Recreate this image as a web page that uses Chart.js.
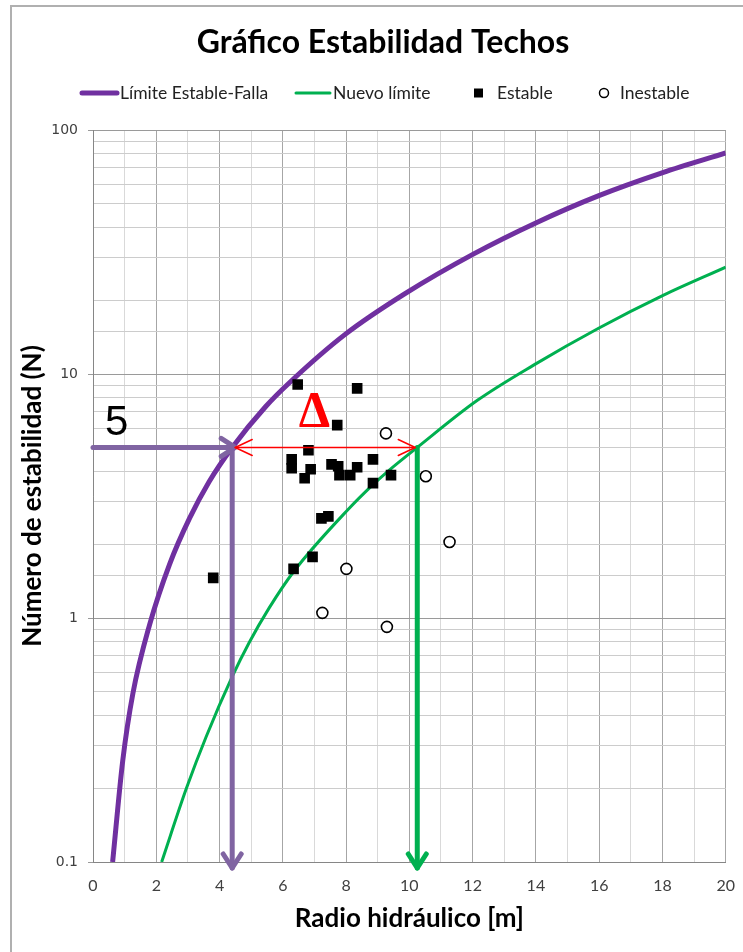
<!DOCTYPE html>
<html>
<head>
<meta charset="utf-8">
<script src="https://cdn.jsdelivr.net/npm/chart.js@4.4.0/dist/chart.umd.min.js"></script>
<style>
  html, body { margin: 0; padding: 0; background: #fff; }
  canvas { display: block; }
</style>
</head>
<body>
<canvas id="myChart" width="743" height="952"></canvas>
<script>
// Límite Estable-Falla (purple curve)
const limitX = [0.62, 0.94, 1.26, 1.79, 2.42, 3.05, 3.67, 4.4, 5.46, 6.2, 7.96, 9.85, 12.02, 14.03, 15.97, 18.01, 20];
const limitN = [0.1, 0.26, 0.49, 0.94, 1.66, 2.56, 3.62, 5.0, 7.36, 9.19, 14.5, 21.3, 31.0, 41.8, 53.7, 66.9, 80.5];

// Nuevo límite (green curve)
const newX = [2.17, 2.95, 3.58, 4.4, 4.93, 5.56, 6.34, 8.07, 8.85, 9.32, 10.25, 12.15, 13.94, 15.98, 18.02, 20];
const newN = [0.1, 0.2, 0.327, 0.575, 0.79, 1.095, 1.547, 2.79, 3.52, 3.99, 5.0, 7.8, 10.9, 15.4, 21.0, 27.4];

// Estable cases
const stableX = [6.47, 8.35, 7.72, 6.81, 6.28, 6.28, 6.88, 6.69, 7.54, 7.75, 7.79, 8.13, 8.35, 8.85, 8.85, 9.42, 7.22, 7.44, 6.94, 6.34, 3.80];
const stableN = [9.06, 8.73, 6.17, 4.87, 4.47, 4.11, 4.07, 3.74, 4.26, 4.19, 3.85, 3.85, 4.15, 4.47, 3.57, 3.85, 2.56, 2.61, 1.78, 1.59, 1.46];

// Inestable cases
const unstableX = [9.26, 10.52, 11.27, 8.01, 7.25, 9.29];
const unstableN = [5.71, 3.81, 2.05, 1.59, 1.05, 0.92];

// annotation: N = 5 read across to both limits
const readN = 5;
const limitAtN = 4.4;
const newAtN = 10.25;
const deltaPos = [7.0, 6.9];
const fiveLabelPos = [0.75, 6.3];

const xTicks = [0, 2, 4, 6, 8, 10, 12, 14, 16, 18, 20];

const toPoints = (xs, ys) => xs.map((x, i) => ({ x: x, y: ys[i] }));
const isDecade = v => Math.abs(Math.log10(v) - Math.round(Math.log10(v))) < 1e-6;

const purple = '#7030A0';
const green = '#00B050';
const arrowPurple = '#8064A2';
const uiFont = 'Lato, "Open Sans", sans-serif';

function chevron(ctx, tipX, tipY, dirX, dirY, len, spread) {
  // open arrowhead, dir is unit vector pointing to the tip
  const px = -dirY, py = dirX;
  ctx.beginPath();
  ctx.moveTo(tipX - dirX * len + px * spread, tipY - dirY * len + py * spread);
  ctx.lineTo(tipX, tipY);
  ctx.lineTo(tipX - dirX * len - px * spread, tipY - dirY * len - py * spread);
  ctx.stroke();
}

const decorations = {
  id: 'decorations',
  beforeDraw(chart) {
    const ctx = chart.ctx;
    ctx.save();
    ctx.fillStyle = '#fff';
    ctx.fillRect(0, 0, chart.width, chart.height);
    // outer frame
    ctx.strokeStyle = '#b0b0b0';
    ctx.lineWidth = 2;
    ctx.beginPath();
    ctx.moveTo(11, chart.height);
    ctx.lineTo(11, 6);
    ctx.lineTo(chart.width, 6);
    ctx.stroke();

    // title
    ctx.fillStyle = '#000';
    ctx.textAlign = 'center';
    ctx.textBaseline = 'middle';
    ctx.font = 'bold 32px ' + uiFont;
    ctx.fillText('Gráfico Estabilidad Techos', 383, 43);

    // legend
    const ly = 93;
    ctx.font = '17.5px ' + uiFont;
    ctx.textAlign = 'left';
    ctx.fillStyle = '#222';
    ctx.lineCap = 'round';
    ctx.strokeStyle = purple; ctx.lineWidth = 5;
    ctx.beginPath(); ctx.moveTo(82, ly); ctx.lineTo(117, ly); ctx.stroke();
    ctx.fillText('Límite Estable-Falla', 120, ly);
    ctx.strokeStyle = green; ctx.lineWidth = 3;
    ctx.beginPath(); ctx.moveTo(296, ly); ctx.lineTo(330, ly); ctx.stroke();
    ctx.fillText('Nuevo límite', 333, ly);
    ctx.fillStyle = '#000';
    ctx.fillRect(474, ly - 4.5, 9, 9);
    ctx.fillStyle = '#222';
    ctx.fillText('Estable', 497, ly);
    ctx.strokeStyle = '#000'; ctx.lineWidth = 1.5;
    ctx.beginPath(); ctx.arc(604, ly, 4.5, 0, Math.PI * 2); ctx.stroke();
    ctx.fillText('Inestable', 620, ly);
    ctx.restore();
  },
  afterDatasetsDraw(chart) {
    const ctx = chart.ctx;
    const xs = chart.scales.x, ys = chart.scales.y;
    const yN = ys.getPixelForValue(readN);
    const yBottom = ys.getPixelForValue(ys.min) + 6;
    const xLeft = xs.getPixelForValue(xs.min);
    const xL = xs.getPixelForValue(limitAtN);
    const xG = xs.getPixelForValue(newAtN);
    ctx.save();
    ctx.lineCap = 'round';
    ctx.lineJoin = 'round';

    // purple horizontal and vertical arrows
    ctx.strokeStyle = arrowPurple;
    ctx.lineWidth = 5;
    ctx.beginPath(); ctx.moveTo(xLeft, yN); ctx.lineTo(xL + 2, yN); ctx.stroke();
    chevron(ctx, xL + 3, yN, 1, 0, 14, 9);
    ctx.beginPath(); ctx.moveTo(xL, yN); ctx.lineTo(xL, yBottom); ctx.stroke();
    chevron(ctx, xL, yBottom, 0, 1, 14, 9);

    // green vertical arrow
    ctx.strokeStyle = green;
    ctx.beginPath(); ctx.moveTo(xG, yN); ctx.lineTo(xG, yBottom); ctx.stroke();
    chevron(ctx, xG, yBottom, 0, 1, 14, 9);

    // red double arrow
    ctx.strokeStyle = '#FF0000';
    ctx.lineWidth = 1.5;
    ctx.beginPath(); ctx.moveTo(xL + 3, yN); ctx.lineTo(xG - 2, yN); ctx.stroke();
    chevron(ctx, xL + 3, yN, -1, 0, 17, 8);
    chevron(ctx, xG - 2, yN, 1, 0, 17, 8);

    // labels
    ctx.textAlign = 'center';
    ctx.textBaseline = 'middle';
    ctx.fillStyle = '#FF0000';
    ctx.font = 'bold 50px "Liberation Serif", serif';
    ctx.fillText('Δ', xs.getPixelForValue(deltaPos[0]), ys.getPixelForValue(deltaPos[1]));
    ctx.fillStyle = '#000';
    ctx.font = '42px "Liberation Sans", sans-serif';
    ctx.fillText(String(readN), xs.getPixelForValue(fiveLabelPos[0]), ys.getPixelForValue(fiveLabelPos[1]));
    ctx.restore();
  }
};

new Chart(document.getElementById('myChart'), {
  type: 'scatter',
  data: {
    datasets: [{
      label: 'Estable',
      data: toPoints(stableX, stableN),
      pointStyle: 'rect',
      pointRadius: 7.5,
      backgroundColor: '#000',
      borderColor: '#000',
      borderWidth: 0
    }, {
      label: 'Inestable',
      data: toPoints(unstableX, unstableN),
      pointStyle: 'circle',
      pointRadius: 5.5,
      backgroundColor: '#fff',
      borderColor: '#000',
      borderWidth: 1.6
    }, {
      label: 'Límite Estable-Falla',
      data: toPoints(limitX, limitN),
      showLine: true,
      cubicInterpolationMode: 'monotone',
      borderColor: purple,
      borderWidth: 5,
      pointRadius: 0
    }, {
      label: 'Nuevo límite',
      data: toPoints(newX, newN),
      showLine: true,
      cubicInterpolationMode: 'monotone',
      borderColor: green,
      borderWidth: 3,
      pointRadius: 0
    }]
  },
  options: {
    responsive: false,
    animation: false,
    devicePixelRatio: 1,
    layout: { padding: { top: 130, left: 10, right: 13, bottom: 0 } },
    plugins: {
      legend: { display: false },
      title: { display: false },
      tooltip: { enabled: false }
    },
    scales: {
      x: {
        type: 'linear',
        min: 0,
        max: 20,
        afterFit: s => { s.height = 90; },
        ticks: {
          stepSize: 1,
          autoSkip: false,
          maxRotation: 0,
          padding: 8,
          color: '#404040',
          font: { family: uiFont, size: 16 },
          callback: v => xTicks.includes(v) ? String(v) : ''
        },
        grid: {
          color: c => (c.tick && c.tick.value % 2 === 0) ? '#a6a6a6' : '#d9d9d9',
          tickLength: 6,
          tickColor: 'rgba(0,0,0,0)'
        },
        border: { color: '#868686' },
        title: {
          display: true,
          text: 'Radio hidráulico [m]',
          color: '#000',
          font: { family: uiFont, size: 26, weight: 'bold' },
          padding: { top: 18, bottom: 18 }
        }
      },
      y: {
        type: 'logarithmic',
        min: 0.1,
        max: 100,
        afterFit: s => { s.width = 83; },
        ticks: {
          autoSkip: false,
          padding: 10,
          color: '#404040',
          font: { family: '"DejaVu Sans", sans-serif', size: 14 },
          callback: v => isDecade(v) ? String(Number(v.toPrecision(1))) : ''
        },
        grid: {
          color: c => (c.tick && isDecade(c.tick.value)) ? '#9a9a9a' : '#cccccc',
          tickLength: 5,
          tickColor: c => (c.tick && isDecade(c.tick.value)) ? '#9a9a9a' : 'rgba(0,0,0,0)'
        },
        border: { color: '#868686' },
        title: {
          display: true,
          text: 'Número de estabilidad (N)',
          color: '#000',
          font: { family: uiFont, size: 26, weight: 'bold' },
          padding: { top: 7, bottom: 7 }
        }
      }
    }
  },
  plugins: [decorations]
});
</script>
</body>
</html>
